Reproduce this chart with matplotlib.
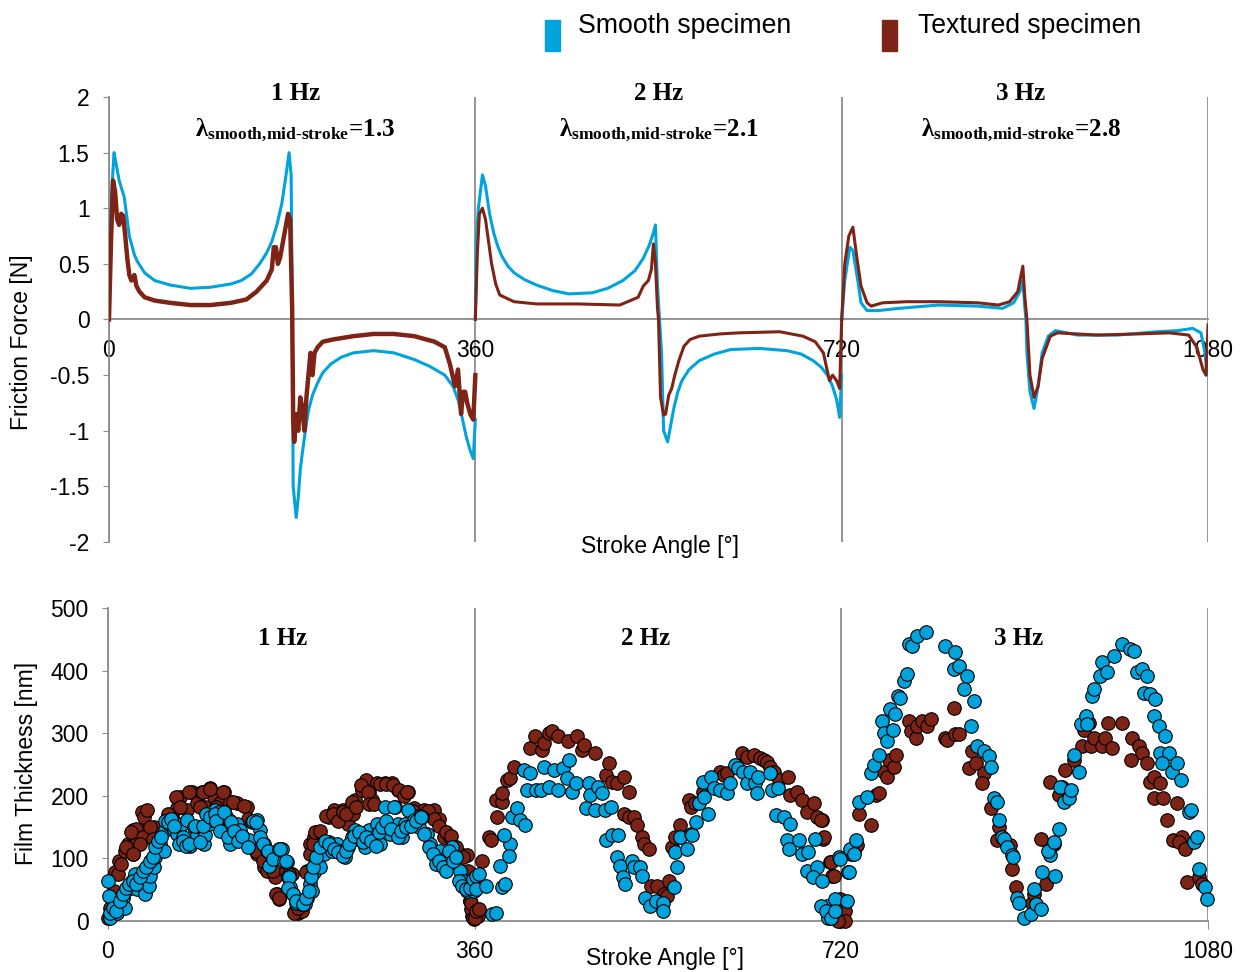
import numpy as np
import matplotlib.pyplot as plt
from matplotlib.patches import Rectangle

plt.rcParams['font.family'] = ['Liberation Sans', 'DejaVu Sans']
plt.rcParams['axes.unicode_minus'] = False
plt.rcParams['mathtext.fontset'] = 'custom'
plt.rcParams['mathtext.rm'] = 'Liberation Serif:bold'
plt.rcParams['mathtext.it'] = 'Liberation Serif:bold'
plt.rcParams['mathtext.bf'] = 'Liberation Serif:bold'

# ---- friction force traces, stroke angle [deg] vs force [N] ----
ang_smooth_1hz = [0, 1, 3, 5, 7, 10, 15, 20, 25, 28, 35, 45, 60, 80, 100, 120, 130, 140, 148, 155,
                  160, 165, 170, 174, 177, 179, 180, 181, 184, 186, 188, 190, 193, 196, 200, 205,
                  210, 218, 228, 240, 260, 280, 300, 315, 330, 338, 343, 347, 351, 355, 358, 360]
frc_smooth_1hz = [0, 0.75, 1.2, 1.5, 1.4, 1.25, 1.1, 0.75, 0.58, 0.52, 0.42, 0.35, 0.31, 0.28, 0.29,
                  0.32, 0.35, 0.41, 0.5, 0.6, 0.7, 0.85, 1.05, 1.3, 1.5, 1.3, 0.2, -1.5, -1.78,
                  -1.6, -1.35, -1.2, -1.0, -0.82, -0.68, -0.57, -0.48, -0.4, -0.34, -0.3, -0.28,
                  -0.3, -0.36, -0.42, -0.5, -0.6, -0.72, -0.88, -1.05, -1.18, -1.25, -0.9]
ang_tex_1hz = [0, 2, 4, 6, 8, 10, 12, 14, 16, 18, 20, 22, 25, 27, 30, 35, 45, 60, 80, 100, 120, 135,
               145, 150, 155, 160, 162, 164, 166, 168, 172, 176, 178, 180, 181, 182, 184, 186, 188,
               190, 192, 194, 196, 198, 200, 202, 205, 210, 220, 240, 260, 280, 300, 320, 330, 335,
               340, 343, 346, 348, 350, 352, 355, 358, 360]
frc_tex_1hz = [0, 0.7, 1.25, 1.15, 0.9, 0.85, 0.95, 0.93, 0.75, 0.55, 0.4, 0.35, 0.4, 0.3, 0.25,
               0.2, 0.17, 0.15, 0.13, 0.13, 0.15, 0.18, 0.25, 0.3, 0.35, 0.45, 0.65, 0.65, 0.5,
               0.55, 0.75, 0.95, 0.9, 0.1, -0.9, -1.1, -0.85, -1.0, -0.7, -0.8, -1.0, -0.7, -0.5,
               -0.3, -0.5, -0.3, -0.25, -0.2, -0.18, -0.15, -0.13, -0.13, -0.15, -0.2, -0.25, -0.4,
               -0.6, -0.45, -0.85, -0.65, -0.65, -0.75, -0.85, -0.9, -0.5]

ang_smooth_2hz = [360, 361, 363, 367, 370, 374, 378, 382, 386, 392, 398, 408, 420, 436, 452, 475,
                  490, 505, 517, 525, 531, 535, 537, 539, 541, 543, 545, 549, 552, 555, 559, 563,
                  570, 580, 595, 611, 639, 666, 680, 692, 700, 706, 711, 715, 718, 720]
frc_smooth_2hz = [0, 0.7, 1.0, 1.3, 1.2, 0.95, 0.78, 0.66, 0.57, 0.48, 0.42, 0.36, 0.31, 0.26,
                  0.23, 0.24, 0.28, 0.35, 0.44, 0.55, 0.67, 0.78, 0.85, 0.3, 0, -0.3, -1.0, -1.1,
                  -0.95, -0.8, -0.65, -0.55, -0.45, -0.37, -0.31, -0.27, -0.26, -0.28, -0.31,
                  -0.37, -0.43, -0.5, -0.6, -0.72, -0.88, -0.5]
ang_tex_2hz = [360, 362, 364, 367, 370, 373, 376, 380, 384, 398, 420, 460, 502, 520, 525, 530, 533,
               535, 537, 539, 540, 542, 545, 547, 550, 553, 556, 560, 565, 571, 580, 600, 619, 659,
               682, 694, 702, 708, 711, 715, 718, 720]
frc_tex_2hz = [0, 0.6, 0.95, 1.0, 0.9, 0.7, 0.5, 0.32, 0.22, 0.16, 0.14, 0.14, 0.13, 0.2, 0.3,
               0.35, 0.45, 0.68, 0.5, 0.1, 0, -0.7, -0.86, -0.85, -0.68, -0.62, -0.5, -0.37,
               -0.24, -0.18, -0.15, -0.13, -0.12, -0.11, -0.15, -0.2, -0.3, -0.55, -0.5, -0.55,
               -0.62, 0]

ang_smooth_3hz = [720, 723, 728, 731, 735, 739, 745, 756, 776, 815, 854, 878, 889, 895, 898, 900,
                  901, 902, 905, 909, 913, 917, 923, 930, 952, 991, 1030, 1050, 1065, 1073, 1077,
                  1079, 1080]
frc_smooth_3hz = [0, 0.35, 0.65, 0.62, 0.4, 0.15, 0.08, 0.08, 0.1, 0.13, 0.12, 0.1, 0.15, 0.25,
                  0.35, 0.1, 0, -0.3, -0.65, -0.8, -0.6, -0.3, -0.15, -0.1, -0.14, -0.14, -0.11,
                  -0.1, -0.08, -0.12, -0.3, -0.5, -0.3]
ang_tex_3hz = [720, 723, 727, 731, 735, 739, 745, 749, 760, 784, 815, 854, 874, 885, 893, 898, 900,
               902, 905, 909, 913, 917, 925, 932, 971, 1010, 1042, 1061, 1069, 1075, 1078, 1080]
frc_tex_3hz = [0, 0.5, 0.75, 0.83, 0.55, 0.3, 0.15, 0.12, 0.15, 0.16, 0.16, 0.15, 0.13, 0.16,
               0.25, 0.48, 0.2, 0, -0.5, -0.7, -0.6, -0.35, -0.15, -0.12, -0.14, -0.13, -0.12,
               -0.14, -0.25, -0.45, -0.5, -0.05]

# ---- film thickness, stroke angle [deg] vs thickness [nm] ----
ang_tex_film_1hz = [0, 2, 5.6, 7, 9.5, 10.5, 12.8, 17, 20, 23.6, 25, 25, 28.5, 31.7, 33.4, 35.7,
                    38, 38, 43, 45, 50, 58, 63, 68, 71, 77.6, 82.5, 87, 92, 95, 100, 103.7, 110,
                    113.5, 120, 126.6, 136, 138, 146, 153, 156, 164, 166, 167.5, 180.6, 184, 187,
                    190, 195, 198.6, 202, 208, 216.6, 221.5, 228, 231, 236, 241, 242.5, 249, 253,
                    256, 259, 264, 272, 278.8, 285, 290, 295, 300, 310, 316, 320, 324.6, 329.5, 336,
                    340.7, 345.9, 352, 355.7, 357, 359,
                    27.8, 23, 34, 31, 18, 24.5, 41, 44, 59, 67, 70.6, 80, 93, 99.7, 113, 90, 106,
                    122.6, 134, 137, 145.5, 152, 162, 165,
                    168, 175, 178, 183, 186.4, 194.6, 198, 201, 202.8, 207.7, 214.5, 220.9, 226,
                    230.6, 233.8, 240, 243.7, 248.5, 255, 256.7, 261.6, 266.6, 273, 279.7, 286.2,
                    291, 294, 299, 305.7, 313.9, 320.5, 325.4, 332, 337, 342, 348.3, 353, 355,
                    356.6, 358, 363]
nm_tex_film_1hz = [5, 21, 48, 78, 75, 96, 91, 112, 123, 139, 145, 107, 126, 145, 174, 166, 177,
                   137, 134, 150, 123, 161, 166, 180, 198, 177, 206, 188, 206, 182, 212, 198, 188,
                   206, 190, 188, 182, 161, 107, 86, 80, 70, 43, 35, 75, 16, 13, 16, 80, 123,
                   134, 134, 166, 177, 171, 177, 155, 171, 193, 209, 225, 206, 193, 220, 220,
                   220, 209, 204, 206, 180, 177, 171, 177, 163, 134, 134, 118, 107, 105,
                   32, 8, 3,
                   147, 142, 134, 123, 118, 107, 150, 131, 171, 198, 182, 206, 206, 211, 206, 182,
                   182, 190, 184, 163, 112, 96, 80, 43,
                   37, 80, 75, 13, 21, 78, 107, 123, 142, 144, 168, 171, 160, 174, 171, 190, 182,
                   217, 206, 187, 187, 219, 219, 217, 209, 200, 206, 176, 168, 176, 163, 152, 142,
                   136, 118, 102, 80, 32, 19, 5, 8]
ang_smooth_film_1hz = [0, 0.7, 2, 5.6, 8.8, 12, 15, 17, 20, 23.6, 26.8, 28.5, 31.7, 35, 36.6, 40,
                       41.6, 45, 46.5, 48, 51, 54.6, 56, 59.6, 63, 64.5, 68, 72.6, 74, 77.6, 80.8,
                       84, 87, 90.6, 94, 95.5, 98.8, 102, 105, 108.6, 112, 115, 118.5, 120, 123,
                       126.6, 130, 133, 138, 141, 146, 149.5, 153, 156, 157.7, 161, 166, 171, 176,
                       177, 179, 182, 185, 190, 193.7, 195, 198.6, 200, 202, 205, 208, 211.7,
                       216.6, 220, 224.8, 228, 233, 236, 239.5, 242.5, 247.7, 252.6, 256, 260.8,
                       264, 267, 272, 277, 282, 285, 288.6, 292, 295, 300, 305, 308, 313, 316,
                       319.7, 323, 326, 329.5, 334, 337.7, 340.7, 345.9, 349, 352, 355.7, 359,
                       1.6, 4.9, 8, 11.4, 14.7, 18, 21, 24.5, 27.8, 31, 34, 37.6, 41, 44, 45.8, 49,
                       52, 55.6, 59, 62, 65, 70, 73.6, 77, 80, 85, 90, 93, 96.5, 99.7, 104.6, 106,
                       109.5, 114, 117.7, 121, 124, 127.5, 132, 137, 142, 145.5, 149, 152, 157,
                       162, 168, 173,
                       168.4, 175, 178, 176.6, 181.5, 185, 191, 194.6, 197, 199.5, 201, 204.4,
                       207.7, 212.6, 217, 222, 226, 230.6, 233.8, 237, 242, 246.8, 250, 253.5, 258,
                       263, 266, 269, 272.8, 278, 281, 284.6, 288, 292.7, 297.6, 302.5, 307, 310.6,
                       315.6, 318.7, 322, 325, 328.6, 332, 335, 338.5, 342, 345, 348, 351.5, 355,
                       358]
nm_smooth_film_1hz = [64, 40, 5, 16, 13, 27, 37, 21, 51, 64, 75, 51, 64, 70, 43, 56, 72, 86, 102,
                      118, 123, 112, 145, 155, 161, 145, 139, 155, 134, 161, 120, 150, 137, 150,
                      123, 137, 155, 161, 177, 174, 155, 171, 161, 123, 145, 155, 145, 134, 129,
                      158, 161, 145, 123, 112, 88, 102, 107, 115, 94, 70, 54, 43, 29, 27, 27, 37,
                      59, 48, 78, 91, 86, 107, 126, 112, 123, 112, 102, 118, 134, 145, 129, 118,
                      145, 134, 155, 123, 182, 139, 182, 155, 134, 155, 177, 161, 150, 166, 139,
                      123, 107, 96, 112, 91, 107, 118, 102, 80, 64, 48, 59, 48,
                      13, 21, 16, 32, 43, 53, 59, 64, 59, 70, 80, 86, 96, 102, 118, 128, 134, 160,
                      158, 163, 152, 123, 128, 120, 123, 152, 126, 152, 171, 166, 171, 160, 144,
                      174, 134, 158, 144, 128, 136, 118, 160, 158, 134, 123, 112, 99, 115, 96,
                      115, 96, 70, 53, 43, 32, 27, 37, 48, 70, 86, 102, 118, 128, 123, 115, 110,
                      104, 112, 123, 136, 142, 126, 134, 128, 120, 142, 150, 160, 147, 182, 134,
                      144, 150, 152, 160, 166, 139, 118, 107, 91, 96, 86, 80, 112, 96, 102, 64,
                      56, 51, 53, 67]

ang_tex_film_2hz = [356, 360, 361, 364, 367.5, 374, 375.7, 380.5, 382, 387, 387, 392, 395, 398.6,
                    414.6, 419.6, 426.5, 428, 433, 436, 442, 452, 460, 465.6, 467, 478.6, 488.5,
                    491.7, 495, 500, 506.6, 506.6, 511.4, 511.4, 516, 519.6, 524.6, 526, 531, 532.8,
                    539, 545.7, 549, 550.6, 554, 557, 562, 570, 572, 576, 584, 589, 601, 605, 608,
                    622.6, 627.6, 634, 640.6, 644, 647, 650, 654, 659, 668, 670, 676, 681, 686, 693,
                    696, 701, 702, 709, 710.6, 718.8, 718.8, 723.6, 723.6]
nm_tex_film_2hz = [29, 5, 16, 19, 96, 134, 129, 193, 166, 190, 204, 225, 228, 246, 276, 295, 273,
                   284, 300, 303, 295, 287, 295, 273, 281, 268, 233, 252, 222, 221, 230, 171, 206,
                   166, 166, 153, 134, 123, 115, 56, 56, 43, 40, 64, 118, 134, 153, 193, 182, 188,
                   206, 214, 238, 233, 236, 268, 262, 265, 260, 257, 254, 246, 238, 225, 230, 201,
                   206, 193, 174, 188, 166, 161, 131, 94, 72, 32, 0, 16, 0]
ang_smooth_film_2hz = [361, 361, 364, 370.8, 377, 380.6, 385, 387, 390, 395, 393.6, 388.8, 396.5,
                       401.6, 404.9, 409.8, 408, 414.6, 411.6, 420, 424.8, 428, 433, 437.8, 442,
                       446.6, 453, 451, 456, 459, 469, 472, 473.6, 478.6, 481, 485, 487.6, 494,
                       488.5, 494.6, 501, 500, 503, 506, 507.6, 514, 516, 522, 523.8, 527, 532, 538,
                       545, 545, 555.5, 559, 557, 562, 568, 572, 573.5, 577, 580, 584, 585, 589,
                       592, 595, 601, 608, 611, 616, 619, 623.8, 627, 630, 635, 637, 638.6, 650,
                       651.5, 658, 656, 664, 670, 667, 668.6, 678, 681, 687, 694, 686, 696, 692.6,
                       700.8, 705.8, 707, 711, 714, 718, 727, 728.6]
nm_smooth_film_2hz = [72, 51, 75, 56, 11, 13, 88, 54, 59, 123, 104, 137, 166, 180, 161, 153, 241,
                      236, 209, 209, 209, 246, 214, 241, 209, 244, 257, 228, 206, 220, 180, 220,
                      201, 177, 214, 204, 177, 182, 129, 137, 137, 102, 88, 70, 59, 96, 86, 86, 72,
                      37, 24, 32, 29, 16, 54, 86, 110, 134, 115, 139, 137, 158, 188, 222, 198, 171,
                      230, 212, 209, 204, 220, 249, 244, 238, 220, 238, 220, 204, 230, 236, 209,
                      212, 169, 166, 155, 129, 115, 129, 107, 110, 131, 80, 86, 70, 64, 24, 5, 16,
                      35, 102, 78, 115]

ang_tex_film_3hz = [699.7, 703, 709.5, 712.8, 719, 717, 729, 732, 735.6, 737, 748.8, 753.7, 757,
                    761.9, 765, 766.8, 771.7, 773.5, 786.4, 788, 793, 794.7, 799.5, 804, 807.6, 822,
                    824, 830.5, 832, 835.5, 845, 848.5, 852, 860, 858, 866.5, 874.6, 873, 886, 888,
                    891, 907, 909, 915.6, 923.7, 928.6, 920.5, 925, 933.5, 937, 939.7, 948, 956.4,
                    958, 963, 965, 968, 976, 979, 985.6, 982, 996, 1005.6, 1012, 1015, 1004, 1020,
                    1023.5, 1026.7, 1033, 1026.7, 1036, 1049.6, 1039.8, 1046, 1054.5, 1051, 1057.8,
                    1059.5, 1071, 1074]
nm_tex_film_3hz = [161, 134, 94, 72, 35, 0, 107, 110, 121, 171, 153, 201, 204, 238, 230, 257, 246,
                   265, 319, 303, 292, 311, 319, 311, 322, 292, 289, 340, 298, 298, 244, 271, 252,
                   236, 220, 180, 150, 129, 121, 83, 54, 29, 43, 131, 112, 123, 59, 222, 201, 214,
                   241, 257, 279, 305, 316, 279, 292, 279, 292, 276, 316, 316, 292, 279, 268, 257,
                   252, 222, 230, 220, 196, 196, 188, 161, 129, 134, 126, 115, 62, 70, 59]
ang_smooth_film_3hz = [699.7, 704.6, 709.5, 714, 719, 727.5, 725.9, 734, 732, 737, 745.5, 748.8,
                       752, 757, 760.3, 761.9, 765, 768, 771, 772.6, 776, 777.7, 781.5, 784.7, 786,
                       789.7, 794.6, 802.7, 822, 832, 830.5, 835.5, 843.6, 840, 850, 847, 853, 860,
                       864.6, 866.5, 869.8, 873, 874.6, 877.9, 879.6, 882.8, 887.7, 889, 892.7,
                       894, 899, 905.7, 909, 910.6, 915.6, 917, 925, 923, 928.6, 933.5, 930, 935,
                       938.5, 943, 945, 948, 953, 954.8, 959.7, 961, 966, 967.7, 974, 976, 981,
                       987.6, 996, 1003.8, 1007, 1010, 1015, 1020, 1017, 1023.5, 1028, 1026.5,
                       1031.6, 1038, 1033, 1041.3, 1034.5, 1044.7, 1049.6, 1053, 1061, 1063, 1066,
                       1069, 1071, 1077.4, 1079]
nm_smooth_film_3hz = [24, 16, 5, 16, 99, 78, 32, 129, 107, 190, 198, 236, 249, 265, 319, 300, 287,
                      338, 305, 330, 359, 356, 383, 394, 442, 439, 456, 461, 439, 429, 402, 407,
                      391, 370, 351, 311, 279, 271, 263, 246, 196, 190, 161, 134, 131, 118, 105,
                      102, 37, 29, 5, 11, 51, 27, 19, 78, 105, 112, 126, 147, 72, 214, 190, 196,
                      209, 265, 238, 314, 327, 314, 359, 370, 391, 413, 397, 423, 442, 434, 431,
                      397, 402, 391, 364, 362, 354, 327, 311, 295, 268, 268, 252, 238, 252, 225,
                      174, 177, 126, 134, 83, 54, 35]

freq_names = ['1 Hz', '2 Hz', '3 Hz']
lambda_values = ['1.3', '2.1', '2.8']
cycle_ticks = [0, 360, 720, 1080]
force_ticks = [-2, -1.5, -1, -0.5, 0, 0.5, 1, 1.5, 2]
film_ticks = [0, 100, 200, 300, 400, 500]

SMOOTH = '#00A3DB'
TEXTURED = '#7E2416'
GREY = '#8C8C8C'
TICK_FS = 16.5

fig = plt.figure(figsize=(12.44, 9.72), dpi=100)
ax1 = fig.add_axes([0.0876, 0.4424, 0.8835, 0.4578])
ax2 = fig.add_axes([0.0868, 0.0525, 0.8843, 0.322])

# friction force
smooth_traces = [(ang_smooth_1hz, frc_smooth_1hz), (ang_smooth_2hz, frc_smooth_2hz),
                 (ang_smooth_3hz, frc_smooth_3hz)]
tex_traces = [(ang_tex_1hz, frc_tex_1hz), (ang_tex_2hz, frc_tex_2hz), (ang_tex_3hz, frc_tex_3hz)]
tex_widths = [3.2, 2.2, 2.2]
for (xs, ys), (xt, yt), lw in zip(smooth_traces, tex_traces, tex_widths):
    ax1.plot(xs, ys, color=SMOOTH, lw=2.2, zorder=3)
    ax1.plot(xt, yt, color=TEXTURED, lw=lw, zorder=4)

ax1.set_xlim(0, 1080)
ax1.set_ylim(-2, 2)
for side in ['top', 'right']:
    ax1.spines[side].set_visible(False)
ax1.spines['left'].set_color(GREY)
ax1.spines['bottom'].set_position(('data', 0))
ax1.spines['bottom'].set_color(GREY)
for sp in ax1.spines.values():
    sp.set_linewidth(1.3)
ax1.set_xticks(cycle_ticks)
ax1.set_yticks(force_ticks)
ax1.set_yticklabels(['{:g}'.format(v) for v in force_ticks])
ax1.tick_params(axis='x', length=0, pad=14, labelsize=TICK_FS)
ax1.tick_params(axis='y', length=4, color=GREY, pad=10, labelsize=TICK_FS)
ax1.grid(axis='x', color=GREY, lw=1.3)
ax1.set_axisbelow(True)

for name, lam, cx in zip(freq_names, lambda_values, [183, 540, 896]):
    ax1.text(cx, 1.97, name, ha='center', va='baseline', fontsize=18,
             family='Liberation Serif', weight='bold', clip_on=False)
    ax1.text(cx, 1.645, r'$\lambda_{\text{smooth,mid-stroke}}$=' + lam,
             ha='center', va='baseline', fontsize=18, family='Liberation Serif', weight='bold')

# film thickness
tex_film = [(ang_tex_film_1hz, nm_tex_film_1hz), (ang_tex_film_2hz, nm_tex_film_2hz),
            (ang_tex_film_3hz, nm_tex_film_3hz)]
smooth_film = [(ang_smooth_film_1hz, nm_smooth_film_1hz), (ang_smooth_film_2hz, nm_smooth_film_2hz),
               (ang_smooth_film_3hz, nm_smooth_film_3hz)]
for xs, ys in tex_film:
    ax2.scatter(xs, ys, s=95, color=TEXTURED, edgecolor='black', lw=0.8, zorder=3, clip_on=False)
for xs, ys in smooth_film:
    ax2.scatter(xs, ys, s=95, color=SMOOTH, edgecolor='black', lw=0.8, zorder=4, clip_on=False)

ax2.set_xlim(0, 1080)
ax2.set_ylim(0, 500)
for side in ['top', 'right']:
    ax2.spines[side].set_visible(False)
for side in ['left', 'bottom']:
    ax2.spines[side].set_color(GREY)
    ax2.spines[side].set_linewidth(1.3)
ax2.set_xticks(cycle_ticks)
ax2.set_yticks(film_ticks)
ax2.tick_params(axis='x', length=6, color=GREY, pad=8, labelsize=TICK_FS)
ax2.tick_params(axis='y', length=4, color=GREY, pad=10, labelsize=TICK_FS)
ax2.grid(axis='x', color=GREY, lw=1.3)
ax2.set_axisbelow(True)

for name, cx in zip(freq_names, [171, 528, 894]):
    ax2.text(cx, 441, name, ha='center', va='baseline', fontsize=18,
             family='Liberation Serif', weight='bold')

# axis titles
fig.text(22 / 1244, 1 - 342 / 972, 'Friction Force [N]', rotation=90, ha='center', va='center',
         fontsize=TICK_FS)
fig.text(27 / 1244, 1 - 763 / 972, 'Film Thickness [nm]', rotation=90, ha='center', va='center',
         fontsize=TICK_FS)
fig.text(660 / 1244, 1 - 547 / 972, 'Stroke Angle [°]', ha='center', va='center', fontsize=TICK_FS)
fig.text(665 / 1244, 1 - 958 / 972, 'Stroke Angle [°]', ha='center', va='center', fontsize=TICK_FS)

# legend
for x0, gap, col, label in [(545, 33, SMOOTH, 'Smooth specimen'),
                            (882, 36, TEXTURED, 'Textured specimen')]:
    fig.add_artist(Rectangle((x0 / 1244, 1 - 51 / 972), 15 / 1244, 31 / 972,
                             transform=fig.transFigure, color=col))
    fig.text((x0 + gap) / 1244, 1 - 26 / 972, label, ha='left', va='center', fontsize=19.2)

fig.savefig('out.png', dpi=100)
